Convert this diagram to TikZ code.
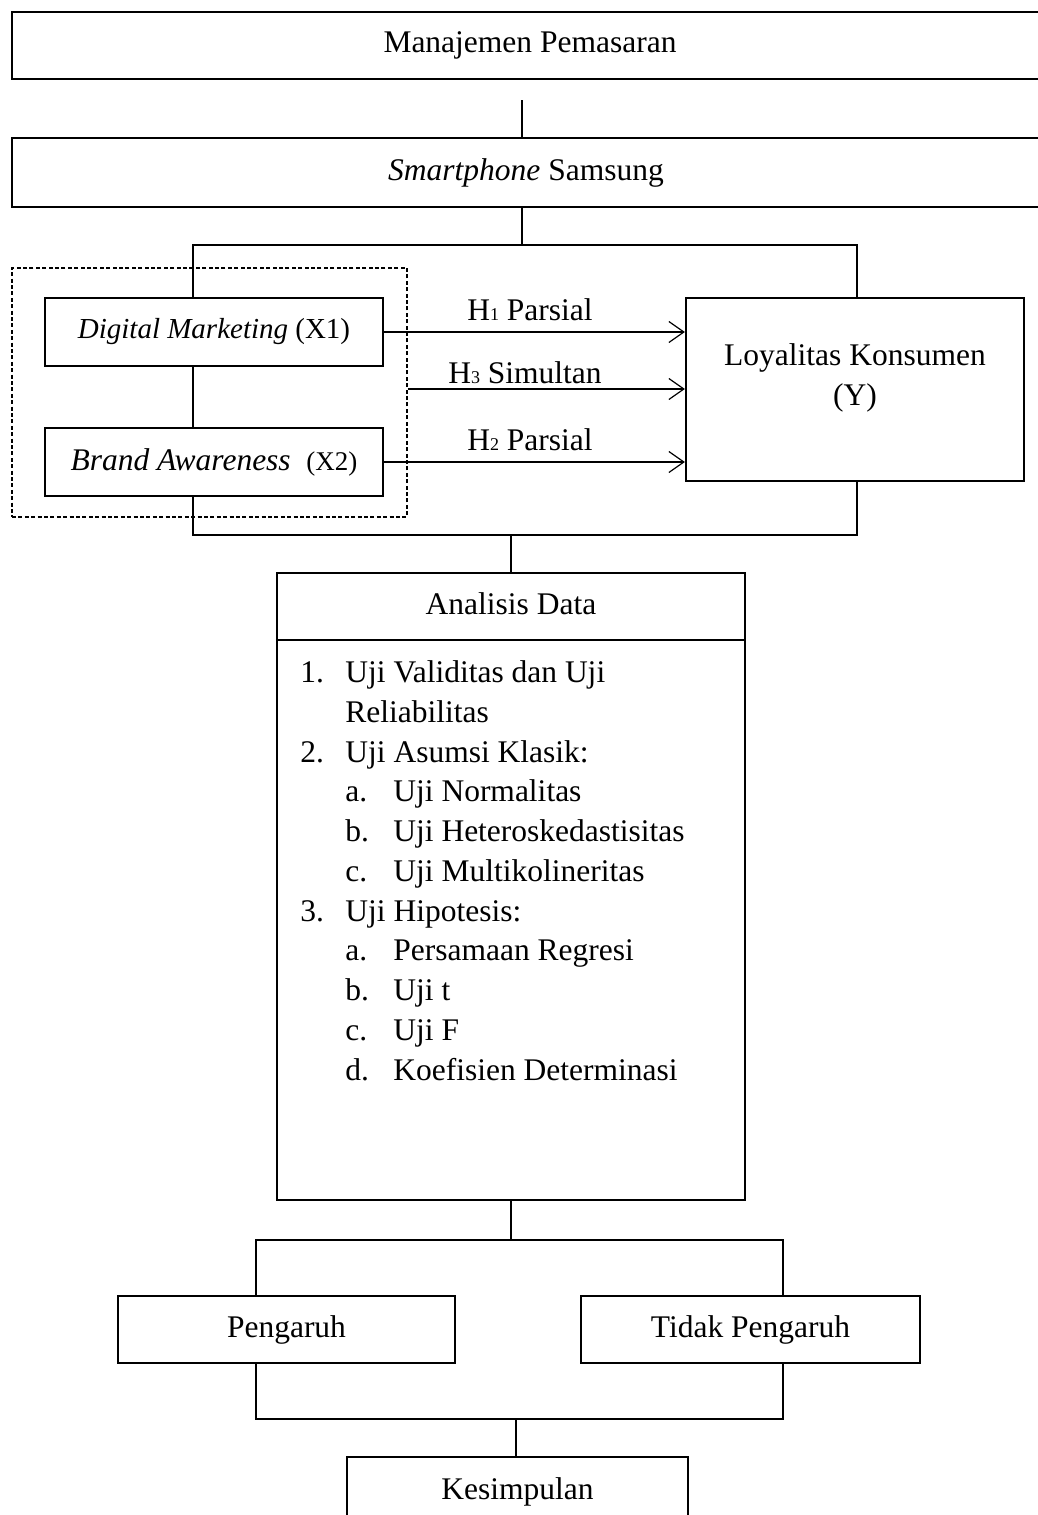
\documentclass[tikz,border=0pt]{standalone}
\usepackage{fontspec}
\setmainfont{Liberation Serif}
\usetikzlibrary{arrows.meta}
\begin{document}
\begin{tikzpicture}[x=0.5pt,y=-0.5pt,
  font=\fontsize{15.75pt}{19.9pt}\selectfont,
  box/.style={draw,line width=1.1pt,inner sep=0pt},
  conn/.style={line width=0.6pt},
  arr/.style={conn,-{Straight Barb[length=7.5pt,width=10.5pt,line width=0.6pt]}},
  lbl/.style={inner sep=0pt},
  item/.style={inner sep=0pt,anchor=base west}]
\clip (0,0) rectangle (1038,1515);
% top boxes
\node[box,minimum width=518pt,minimum height=33.5pt] (mp) at (530,45.5) {Manajemen Pemasaran};
\node[box,minimum width=514pt,minimum height=34.5pt] (sm) at (526,172.5) {\textit{Smartphone} Samsung};
% group
\node[draw,conn,dash pattern=on 2pt off 1.2pt,inner sep=0pt,minimum width=197.5pt,minimum height=124.5pt] (grp) at (209.5,392.5) {};
\node[box,minimum width=169pt,minimum height=34pt,font=\fontsize{14.5pt}{18pt}\selectfont] (dm) at (214,332) {\textit{Digital Marketing} (X1)};
\node[box,minimum width=169pt,minimum height=34pt] (ba) at (214,462) {\textit{Brand Awareness}\ \ {\fontsize{13.5pt}{14pt}\selectfont (X2)}};
\node[box,minimum width=169pt,minimum height=91.5pt] (ly) at (855,389.5) {};
\node[lbl,align=center] (lyt) at (855,378) {Loyalitas Konsumen\\(Y)};
% connectors top
\coordinate (t1) at (522,100);
\draw[conn] (t1) -- (t1 |- sm.north);
\coordinate (j1) at (522,245);
\coordinate (jl) at (193,245);
\coordinate (jr) at (857,245);
\draw[conn] (sm.south -| j1) -- (j1);
\draw[conn] (dm.north -| jl) -- (jl) -- (jr) -- (ly.north -| jr);
\draw[conn] (dm.south -| jl) -- (ba.north -| jl);
\coordinate (kl) at (193,535);
\coordinate (kr) at (857,535);
\coordinate (km) at (511,535);
\draw[conn] (ba.south -| kl) -- (kl) -- (kr) -- (ly.south -| kr);
% arrows
\draw[arr] (dm.east) -- (ly.west |- dm.east);
\draw[arr] (grp.east |- 0,389) -- (ly.west |- 0,389);
\draw[arr] (ba.east) -- (ly.west |- ba.east);
\node[lbl] (h1) at (530,310) {H{\fontsize{9pt}{9pt}\selectfont 1} Parsial};
\node[lbl] (h3) at (525,373) {H{\fontsize{9pt}{9pt}\selectfont 3} Simultan};
\node[lbl] (h2) at (530,440) {H{\fontsize{9pt}{9pt}\selectfont 2} Parsial};
% analisis
\node[box,minimum width=234pt,minimum height=313.5pt] (ad) at (511,886.5) {};
\node[lbl] (adt) at (511,604) {Analisis Data};
\draw[line width=1.1pt] (ad.west |- 0,640) -- (ad.east |- 0,640);
\draw[conn] (km) -- (ad.north -| km);
\node[item] (l1) at (300,682) {\makebox[22.5pt][l]{1.}Uji Validitas dan Uji};
\node[item] (l2) at (345,722) {Reliabilitas};
\node[item] (l3) at (300,762) {\makebox[22.5pt][l]{2.}Uji Asumsi Klasik:};
\node[item] (l4) at (345,801) {\makebox[24pt][l]{a.}Uji Normalitas};
\node[item] (l5) at (345,841) {\makebox[24pt][l]{b.}Uji Heteroskedastisitas};
\node[item] (l6) at (345,881) {\makebox[24pt][l]{c.}Uji Multikolineritas};
\node[item] (l7) at (300,921) {\makebox[22.5pt][l]{3.}Uji Hipotesis:};
\node[item] (l8) at (345,960) {\makebox[24pt][l]{a.}Persamaan Regresi};
\node[item] (l9) at (345,1000) {\makebox[24pt][l]{b.}Uji t};
\node[item] (l10) at (345,1040) {\makebox[24pt][l]{c.}Uji F};
\node[item] (l11) at (345,1080) {\makebox[24pt][l]{d.}Koefisien Determinasi};
% bottom
\node[box,minimum width=168.5pt,minimum height=33.5pt] (pg) at (286.5,1329.5) {Pengaruh};
\node[box,minimum width=169.5pt,minimum height=33.5pt] (tp) at (750.5,1329.5) {Tidak Pengaruh};
\node[box,minimum width=170.5pt,minimum height=35pt] (ks) at (517.5,1492) {Kesimpulan};
\coordinate (b1) at (511,1240);
\coordinate (bl) at (256,1240);
\coordinate (br) at (783,1240);
\draw[conn] (ad.south -| b1) -- (b1);
\draw[conn] (pg.north -| bl) -- (bl) -- (br) -- (tp.north -| br);
\coordinate (cl) at (256,1419);
\coordinate (cr) at (783,1419);
\coordinate (cm) at (516,1419);
\draw[conn] (pg.south -| cl) -- (cl) -- (cr) -- (tp.south -| cr);
\draw[conn] (cm) -- (ks.north -| cm);
\end{tikzpicture}
\end{document}
